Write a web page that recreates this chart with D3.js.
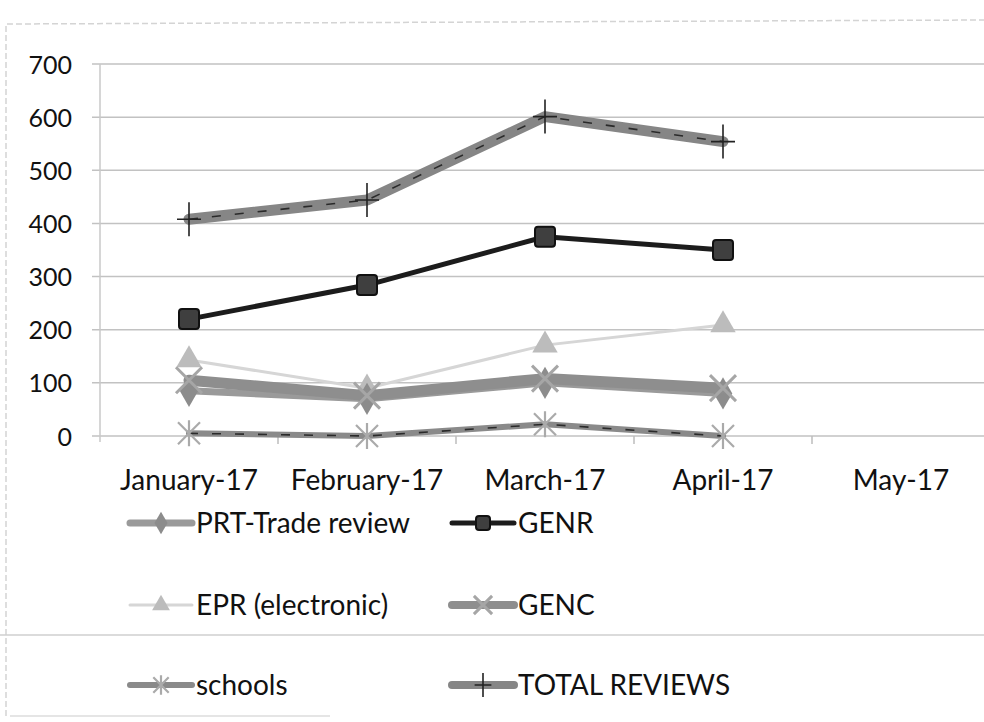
<!DOCTYPE html>
<html>
<head>
<meta charset="utf-8">
<script src="https://cdn.jsdelivr.net/npm/d3@7"></script>
<style>
    body { margin: 0; background: #fff; }
    svg text { font-family: Lato, 'Open Sans', sans-serif; fill: #111; }
</style>
</head>
<body>
<svg id="chart" width="984" height="722"></svg>
<script>
const MONTHS = ['January-17', 'February-17', 'March-17', 'April-17', 'May-17'];
const Y_TICKS = [0, 100, 200, 300, 400, 500, 600, 700];

const PRT_TRADE = [85, 70, 100, 80];
const GENR = [220, 284, 375, 350];
const EPR = [143, 90, 171, 209];
const GENC = [105, 76, 108, 90];
const SCHOOLS = [5, 0, 22, 0];
const TOTAL = [408, 444, 601, 554];

const SERIES = [
    { label: 'PRT-Trade review', values: PRT_TRADE, color: '#9a9a9a', width: 7, marker: 'diamond', mcolor: '#8c8c8c' },
    { label: 'GENR', values: GENR, color: '#1c1c1c', width: 5, marker: 'square', mcolor: '#3f3f3f' },
    { label: 'EPR (electronic)', values: EPR, color: '#d6d6d6', width: 3, marker: 'triangle', mcolor: '#bcbcbc' },
    { label: 'GENC', values: GENC, color: '#8e8e8e', width: 11, marker: 'x', mcolor: '#9a9a9a' },
    { label: 'schools', values: SCHOOLS, color: '#8a8a8a', width: 6, marker: 'star', mcolor: '#9c9c9c', dash: true },
    { label: 'TOTAL REVIEWS', values: TOTAL, color: '#868686', width: 11, marker: 'plus', mcolor: '#222', dash: true }
];

const svg = d3.select('#chart');

// scanned page frame
svg.append('path')
    .attr('d', 'M6,716 L6,24 L984,20')
    .attr('fill', 'none')
    .attr('stroke', '#d4d4d4')
    .attr('stroke-width', 1.5)
    .attr('stroke-dasharray', '6,3');
svg.append('line')
    .attr('x1', 0).attr('x2', 984).attr('y1', 635).attr('y2', 635)
    .attr('stroke', '#cfcfcf').attr('stroke-width', 1.5);
svg.append('line')
    .attr('x1', 10).attr('x2', 330).attr('y1', 716).attr('y2', 716)
    .attr('stroke', '#dcdcdc').attr('stroke-width', 1.5);

const margin = { left: 100, top: 64 };
const plotW = 890;
const plotH = 372;

const g = svg.append('g')
    .attr('transform', 'translate(' + margin.left + ',' + margin.top + ')');

const x = d3.scaleBand().domain(MONTHS).range([0, plotW]);
const y = d3.scaleLinear().domain([0, 700]).range([plotH, 0]);

// gridlines
g.selectAll('.grid')
    .data(Y_TICKS)
    .enter()
    .append('line')
    .attr('x1', -8)
    .attr('x2', plotW)
    .attr('y1', function(d) { return y(d); })
    .attr('y2', function(d) { return y(d); })
    .attr('stroke', '#c2c2c2')
    .attr('stroke-width', 1.5);

g.append('line')
    .attr('x1', 0).attr('x2', 0).attr('y1', 0).attr('y2', plotH + 6)
    .attr('stroke', '#c8c8c8').attr('stroke-width', 1.5);

// y axis
const yAxis = g.append('g')
    .call(d3.axisLeft(y).tickValues(Y_TICKS).tickSize(0).tickPadding(28));
yAxis.select('.domain').remove();
yAxis.selectAll('text')
    .style('font-size', '25px')
    .attr('fill', '#111')
    .attr('dy', '0.36em');

// x axis
const xAxis = g.append('g')
    .attr('transform', 'translate(0,' + plotH + ')')
    .call(d3.axisBottom(x).tickSize(0).tickPadding(34));
xAxis.select('.domain').remove();
xAxis.selectAll('text')
    .style('font-size', '28px')
    .attr('fill', '#111');
g.selectAll('.xtick')
    .data(MONTHS.slice(1))
    .enter()
    .append('line')
    .attr('x1', function(d) { return x(d); })
    .attr('x2', function(d) { return x(d); })
    .attr('y1', plotH)
    .attr('y2', plotH + 8)
    .attr('stroke', '#bdbdbd')
    .attr('stroke-width', 1.5);

function drawMarker(sel, s, cx, cy, scale) {
    const k = scale || 1;
    const m = sel.append('g').attr('transform', 'translate(' + cx + ',' + cy + ')');
    if (s.marker === 'diamond') {
        m.append('path').attr('d', d3.symbol().type(d3.symbolDiamond).size(300 * k * k)())
            .attr('fill', s.mcolor);
    } else if (s.marker === 'square') {
        const r = 10 * k;
        m.append('rect').attr('x', -r).attr('y', -r).attr('width', 2 * r).attr('height', 2 * r)
            .attr('rx', 3).attr('fill', s.mcolor).attr('stroke', '#111').attr('stroke-width', 2);
    } else if (s.marker === 'triangle') {
        m.append('path').attr('d', d3.symbol().type(d3.symbolTriangle).size(280 * k * k)())
            .attr('fill', s.mcolor);
    } else if (s.marker === 'x') {
        const r = 13 * k;
        m.append('path').attr('d', 'M' + -r + ',' + -r + 'L' + r + ',' + r + 'M' + r + ',' + -r + 'L' + -r + ',' + r)
            .attr('stroke', '#a6a6a6').attr('stroke-width', 3);
    } else if (s.marker === 'star') {
        const r = 11 * k;
        m.append('path').attr('d', 'M' + -r + ',' + -r + 'L' + r + ',' + r + 'M' + r + ',' + -r + 'L' + -r + ',' + r +
            'M0,' + (-r - 2) + 'L0,' + (r + 2))
            .attr('stroke', '#aaaaaa').attr('stroke-width', 2.2);
    } else if (s.marker === 'plus') {
        m.append('path').attr('d', 'M0,' + (-17 * k) + 'L0,' + (17 * k) + 'M' + (-12 * k) + ',0L' + (12 * k) + ',0')
            .attr('stroke', s.mcolor).attr('stroke-width', 1.6);
    }
}

const line = d3.line()
    .x(function(d, i) { return x(MONTHS[i]) + x.bandwidth() / 2; })
    .y(function(d) { return y(d); });

// draw series: back to front
const order = ['EPR (electronic)', 'schools', 'PRT-Trade review', 'GENC', 'GENR', 'TOTAL REVIEWS'];
order.forEach(function(name) {
    const s = SERIES.find(function(d) { return d.label === name; });
    g.append('path')
        .datum(s.values)
        .attr('fill', 'none')
        .attr('stroke', s.color)
        .attr('stroke-width', s.width)
        .attr('stroke-linejoin', 'round')
        .attr('stroke-linecap', 'round')
        .attr('d', line);
    if (s.dash) {
        g.append('path')
            .datum(s.values)
            .attr('fill', 'none')
            .attr('stroke', '#2a2a2a')
            .attr('stroke-width', 1.6)
            .attr('stroke-dasharray', '9,14')
            .attr('d', line);
    }
    s.values.forEach(function(v, i) {
        drawMarker(g, s, x(MONTHS[i]) + x.bandwidth() / 2, y(v));
    });
});

// legend
const LEGEND_POS = [
    { label: 'PRT-Trade review', x: 130, y: 523 },
    { label: 'GENR', x: 452, y: 523 },
    { label: 'EPR (electronic)', x: 130, y: 605 },
    { label: 'GENC', x: 452, y: 605 },
    { label: 'schools', x: 130, y: 685 },
    { label: 'TOTAL REVIEWS', x: 452, y: 685 }
];

const legend = svg.append('g');
LEGEND_POS.forEach(function(p) {
    const s = SERIES.find(function(d) { return d.label === p.label; });
    legend.append('line')
        .attr('x1', p.x).attr('x2', p.x + 62)
        .attr('y1', p.y).attr('y2', p.y)
        .attr('stroke', s.color)
        .attr('stroke-width', Math.min(s.width, 8))
        .attr('stroke-linecap', 'round');
    drawMarker(legend, s, p.x + 31, p.y, 0.7);
    legend.append('text')
        .attr('x', p.x + 66)
        .attr('y', p.y)
        .attr('dy', '0.36em')
        .style('font-size', '28px')
        .text(p.label);
});
</script>
</body>
</html>
